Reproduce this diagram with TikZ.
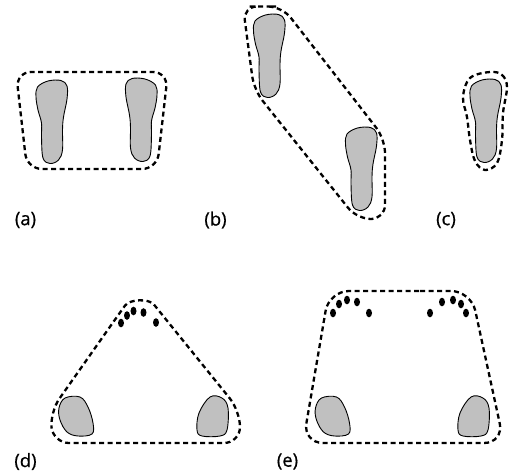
\documentclass[tikz,border=0pt]{standalone}
\usepackage{fontspec}
\setmainfont{Open Sans}
\newfontfamily\labfont{Open Sans}[FakeBold=0.6]
\definecolor{footgray}{RGB}{192,192,192}
\tikzset{
  foot/.style={draw=black, line width=0.9pt, fill=footgray},
  zone/.style={draw=black, line width=2.3pt, dash pattern=on 5pt off 3.5pt},
  toe/.style={fill=black, draw=none},
  lab/.style={font=\labfont\fontsize{18.5}{22}\selectfont, inner sep=0pt},
  footpic/.pic={\draw[foot] plot[smooth cycle, tension=0.6] coordinates {(-14.5,-35) (-4,-41) (9,-41.5) (15,-36) (15,-23) (11.5,-5) (10.5,8) (10.5,28) (6.5,38) (-2,41.5) (-9,36) (-10.5,15) (-10.5,1) (-14,-12) (-16,-25)};},
  padleft/.pic={\draw[foot] plot[smooth cycle, tension=0.6] coordinates {(-11,-19) (4,-20) (12,-10) (17,6) (16,17) (2,19) (-9,15) (-16,3) (-17,-9)};},
  padright/.pic={\draw[foot] plot[smooth cycle, tension=0.6] coordinates {(-2.5,-19.5) (9.5,-18.5) (15.5,-8.5) (14.5,13.5) (7.5,19.5) (-10.5,19.5) (-15.5,13.5) (-13.5,-3.5)};}
}
\begin{document}
\begin{tikzpicture}[x=1pt, y=-1pt]
\useasboundingbox (0,0) rectangle (514,472);
% (a)
\draw[zone, rounded corners=15pt] (92,72) -- (168,72) -- (157,169) -- (27,169) -- (16,72) -- cycle;
\pic at (52,122) {footpic};
\pic[xscale=-1] at (141,120) {footpic};
\node[lab] (la) at (25.5,220) {(a)};
% (b)
\draw[zone, rounded corners=14pt] (262,6.5) -- (282,6.5) -- (385,139) -- (385,219) -- (357,219) -- (254,90) -- (243,6.5) -- cycle;
\pic at (269.5,56) {footpic};
\pic at (361.5,169) {footpic};
\node[lab] (lb) at (215.5,220) {(b)};
% (c)
\draw[zone] plot[smooth cycle, tension=0.6] coordinates {(490,72) (502,75) (507,87) (503,113) (502,140) (497,163) (485,170) (475,161) (470,140) (467,117) (463,97) (470,78)};
\pic at (486,121) {footpic};
\node[lab] (lc) at (446,220) {(c)};
% (d)
\draw[zone, rounded corners=16pt] (150,443) -- (240,443) -- (240,411) -- (164,317) .. controls (149,298.4) and (129.7,299) .. (115.7,318.6) -- (50,412) -- (53,443) -- cycle;
\pic at (76,417) {padleft};
\pic at (212.5,416.5) {padright};
\foreach \p in {(121,323),(127,315.5),(133.5,311),(143.5,312.5),(156,322.5)}
  \fill[toe] \p ellipse [x radius=3pt, y radius=4.3pt];
\node[lab] (ld) at (25.5,461.5) {(d)};
% (e)
\draw[zone, rounded corners=20pt] (400,291) -- (471,291) -- (504,443) -- (303,443) -- (329,291) -- cycle;
\pic at (332.5,417) {padleft};
\pic at (473.5,416.5) {padright};
\foreach \p in {(333,313),(339,304),(347,300),(357,302),(369,313),(430,313),(442,302),(453,300),(461,304),(466,313)}
  \fill[toe] \p ellipse [x radius=3pt, y radius=4.3pt];
\node[lab] (le) at (287.5,461.5) {(e)};
\end{tikzpicture}
\end{document}
